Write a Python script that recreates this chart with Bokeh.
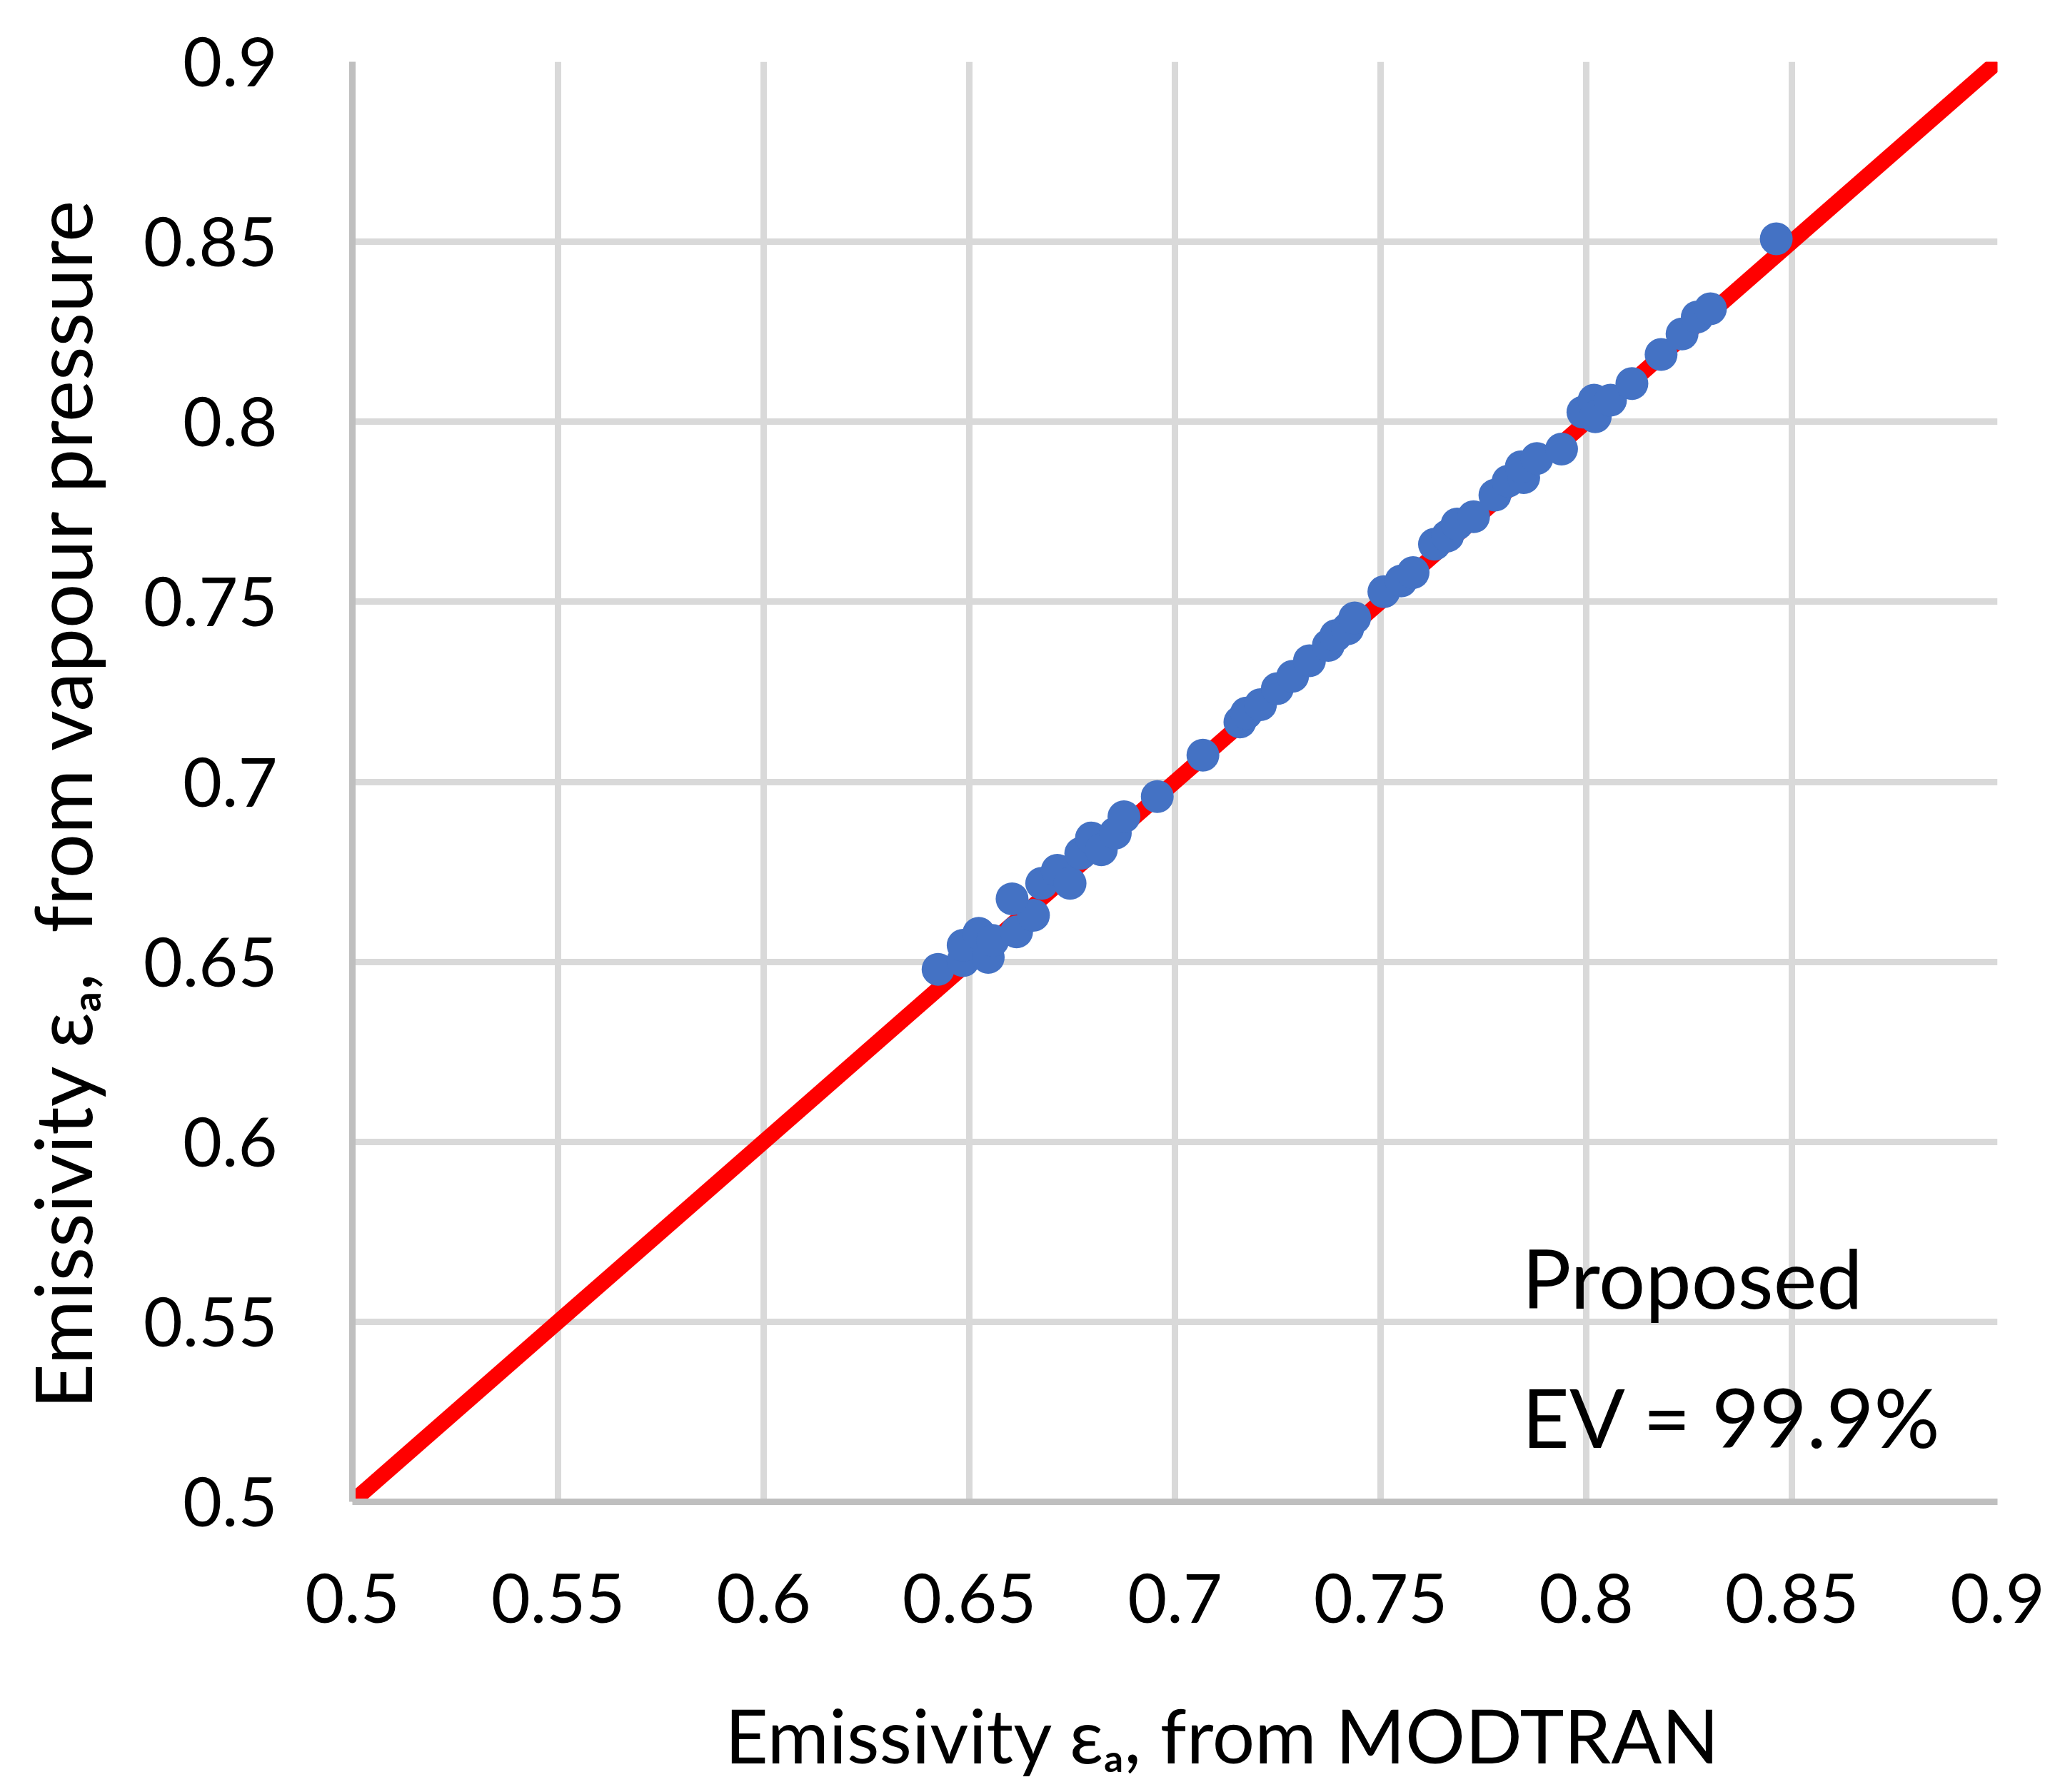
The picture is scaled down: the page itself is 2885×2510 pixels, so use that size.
from bokeh.plotting import figure
from bokeh.models import Range1d, FixedTicker, Label
from bokeh.embed import file_html
from bokeh.resources import INLINE

# ---- data ----
modtran = [0.6424, 0.6485, 0.6485, 0.6523, 0.6546, 0.6557, 0.6615, 0.6656, 0.6604, 0.6676,
           0.6714, 0.6745, 0.6771, 0.6797, 0.6821, 0.6855, 0.6876, 0.6957, 0.7068, 0.7158,
           0.7174, 0.7208, 0.7249, 0.7286, 0.7327, 0.7373, 0.7391, 0.7420, 0.7437, 0.7508,
           0.7550, 0.7579, 0.7631, 0.7663, 0.7686, 0.7726, 0.7778, 0.7810, 0.7848, 0.7842,
           0.7880, 0.7940, 0.7992, 0.8019, 0.8022, 0.8059, 0.8111, 0.8182, 0.8233, 0.8270,
           0.8302, 0.8462]
vapour = [0.6479, 0.6503, 0.6546, 0.6579, 0.6512, 0.6559, 0.6583, 0.6629, 0.6675, 0.6718,
          0.6754, 0.6718, 0.6801, 0.6844, 0.6811, 0.6857, 0.6903, 0.6959, 0.7074, 0.7166,
          0.7191, 0.7214, 0.7259, 0.7293, 0.7336, 0.7379, 0.7406, 0.7425, 0.7455, 0.7528,
          0.7558, 0.7581, 0.7660, 0.7683, 0.7716, 0.7736, 0.7796, 0.7835, 0.7845, 0.7875,
          0.7898, 0.7924, 0.8027, 0.8060, 0.8014, 0.8060, 0.8106, 0.8187, 0.8244, 0.8291,
          0.8314, 0.8508]
line_ends = [0.5, 0.9]
tick_values = [0.5, 0.55, 0.6, 0.65, 0.7, 0.75, 0.8, 0.85, 0.9]
tick_labels = ["0.5", "0.55", "0.6", "0.65", "0.7", "0.75", "0.8", "0.85", "0.9"]
note_lines = ["Proposed", "EV = 99.9%"]
x_title = "Emissivity \u03b5\u2090, from MODTRAN"
y_title = "Emissivity \u03b5\u2090,\u00a0 from vapour pressure"

# ---- layout (pixels of the reference page) ----
W, H = 2877, 2502
LEFT, TOP, FW, FH = 493, 86, 2304, 2017
X0, X1, Y0, Y1 = 0.5, 0.9, 0.5, 0.9
NBSP = "\u00a0"


def dx(px):  # reference page x pixel -> data x
    return X0 + (px - LEFT) / FW * (X1 - X0)


def dy(py):  # reference page y pixel -> data y
    return Y0 + (TOP + FH - py) / FH * (Y1 - Y0)


p = figure(width=W, height=H, output_backend="svg", toolbar_location=None,
           x_range=Range1d(X0, X1), y_range=Range1d(Y0, Y1),
           min_border_left=LEFT, min_border_right=W - LEFT - FW,
           min_border_top=TOP, min_border_bottom=H - TOP - FH)
p.outline_line_color = None
p.background_fill_color = "white"
p.border_fill_color = "white"

for ax in (p.xaxis[0], p.yaxis[0]):
    ax.ticker = FixedTicker(ticks=tick_values)
    ax.major_label_overrides = dict(zip(tick_values, tick_labels))
    ax.major_tick_line_color = None
    ax.minor_tick_line_color = None
    ax.major_tick_out = 0
    ax.major_tick_in = 0
    ax.axis_line_color = "#BFBFBF"
    ax.axis_line_width = 9
    ax.major_label_text_font = "Lato"
    ax.major_label_text_font_size = "95px"
    ax.major_label_text_color = "black"
    ax.axis_label_text_font = "Lato"
    ax.axis_label_text_font_style = "normal"
    ax.axis_label_text_color = "black"
p.xaxis[0].major_label_standoff = 100
p.yaxis[0].major_label_standoff = 105
p.xaxis[0].axis_label = NBSP * 5 + x_title
p.yaxis[0].axis_label = y_title + NBSP * 2
p.xaxis[0].axis_label_text_font_size = "105px"
p.yaxis[0].axis_label_text_font_size = "110px"
p.xaxis[0].axis_label_standoff = 90
p.yaxis[0].axis_label_standoff = 46

for g in (p.xgrid[0], p.ygrid[0]):
    g.ticker = FixedTicker(ticks=tick_values)
    g.grid_line_color = "#D9D9D9"
    g.grid_line_width = 9

p.line(line_ends, line_ends, line_color="#FF0000", line_width=22)
p.scatter(modtran, vapour, size=46, fill_color="#4472C4", line_color=None)

# annotation text
for txt, py in zip(note_lines, [1787, 1982]):
    p.add_layout(Label(x=dx(2131), y=dy(py), text=txt, text_font="Lato",
                       text_font_size="115px", text_color="black",
                       text_baseline="alphabetic", text_align="left"))

open("out.html", "w").write(file_html(p, INLINE))
